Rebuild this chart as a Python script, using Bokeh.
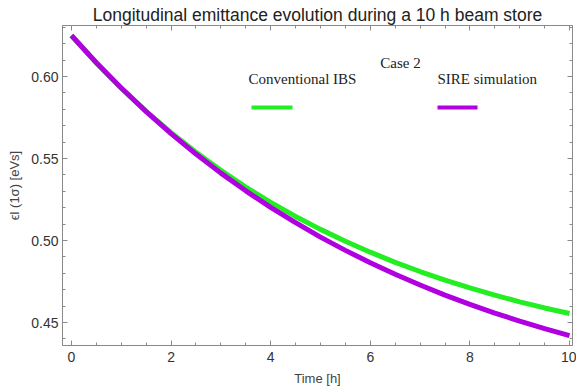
from bokeh.plotting import figure
from bokeh.models import Range1d, LinearAxis, BoxAnnotation, Label, FixedTicker, NumeralTickFormatter
from bokeh.embed import file_html
from bokeh.resources import INLINE

time_h = [0, 0.5, 1, 1.5, 2, 2.5, 3, 3.5, 4, 4.5, 5, 5.5, 6, 6.5, 7, 7.5, 8, 8.5, 9, 9.5, 10]
conventional_ibs = [0.6250, 0.6083, 0.5929, 0.5788, 0.5658, 0.5538, 0.5428, 0.5326, 0.5233, 0.5147, 0.5068,
                    0.4996, 0.4929, 0.4867, 0.4811, 0.4759, 0.4711, 0.4667, 0.4626, 0.4589, 0.4555]
sire_simulation = [0.6250, 0.6084, 0.5930, 0.5786, 0.5652, 0.5527, 0.5411, 0.5303, 0.5202, 0.5109, 0.5021,
                   0.4940, 0.4865, 0.4794, 0.4729, 0.4667, 0.4611, 0.4558, 0.4509, 0.4463, 0.4420]
x_ticks = [0, 2, 4, 6, 8, 10]
y_ticks = [0.45, 0.50, 0.55, 0.60]
x_minor = [i * 0.5 for i in range(0, 21)]
y_minor = [0.44 + i * 0.01 for i in range(0, 20)]

GREEN = "#22ee22"
PURPLE = "#b000e0"
AX = "#8a8a8a"
SANS = "Liberation Sans"
SERIF = "Liberation Serif"

FRAME_LEFT = 62
FRAME_BOTTOM = 345

p = figure(width=576, height=389, output_backend="svg", toolbar_location=None,
           x_range=Range1d(-0.18, 10.06), y_range=Range1d(0.436, 0.6311),
           min_border_left=FRAME_LEFT, min_border_right=4, min_border_top=25, min_border_bottom=389 - FRAME_BOTTOM)
p.grid.visible = False
p.outline_line_color = AX
p.background_fill_color = "white"
p.border_fill_color = "white"

p.title.text = "Longitudinal emittance evolution during a 10 h beam store"
p.title.align = "center"
p.title.text_font = SANS
p.title.text_font_size = "17.5px"
p.title.text_font_style = "normal"
p.title.text_color = "#222222"
p.title.standoff = 2

def style_axis(ax, ticks, minor, labels=True):
    ax.ticker = FixedTicker(ticks=ticks, minor_ticks=minor)
    ax.axis_line_color = AX
    ax.major_tick_line_color = AX
    ax.minor_tick_line_color = AX
    ax.major_tick_in = 5
    ax.major_tick_out = 0
    ax.minor_tick_in = 3
    ax.minor_tick_out = 0
    if labels:
        ax.major_label_text_font = SANS
        ax.major_label_text_font_size = "14px"
        ax.major_label_text_color = "#333333"
        ax.axis_label_text_font = SANS
        ax.axis_label_text_font_size = "13px"
        ax.axis_label_text_font_style = "normal"
        ax.axis_label_text_color = "#444444"
    else:
        ax.major_label_overrides = {t: "" for t in ticks}
        ax.major_label_standoff = 0

style_axis(p.xaxis[0], x_ticks, x_minor)
style_axis(p.yaxis[0], y_ticks, y_minor)
p.xaxis[0].axis_label = "Time [h]"
p.xaxis[0].major_label_standoff = 6
p.xaxis[0].axis_label_standoff = 6
p.yaxis[0].axis_label = "ϵl (1σ) [eVs]"
p.yaxis[0].major_label_standoff = 4
p.yaxis[0].axis_label_standoff = 6
p.yaxis[0].formatter = NumeralTickFormatter(format="0.00")

top_ax = LinearAxis()
style_axis(top_ax, x_ticks, x_minor, labels=False)
p.add_layout(top_ax, "above")
right_ax = LinearAxis()
style_axis(right_ax, y_ticks, y_minor, labels=False)
p.add_layout(right_ax, "right")

p.line(time_h, conventional_ibs, line_color=GREEN, line_width=5)
p.line(time_h, sire_simulation, line_color=PURPLE, line_width=5)

# legend-like annotations, positioned in screen pixels relative to the frame
def label(cx, cy, text, align):
    p.add_layout(Label(x=cx - FRAME_LEFT, y=FRAME_BOTTOM - cy, x_units="screen", y_units="screen", text=text,
                       text_font=SERIF, text_font_size="15px", text_color="#222222",
                       text_align=align, text_baseline="middle"))

def swatch(x0, x1, cy, color):
    p.add_layout(BoxAnnotation(left=x0 - FRAME_LEFT, right=x1 - FRAME_LEFT,
                               bottom=FRAME_BOTTOM - cy - 2, top=FRAME_BOTTOM - cy + 2,
                               left_units="screen", right_units="screen", top_units="screen", bottom_units="screen",
                               fill_color=color, fill_alpha=1, line_color=None))

label(400, 62, "Case 2", "center")
label(248, 78, "Conventional IBS", "left")
label(437, 78, "SIRE simulation", "left")
swatch(251, 292, 107, GREEN)
swatch(437, 477, 107, PURPLE)

open("out.html", "w").write(file_html(p, INLINE))
